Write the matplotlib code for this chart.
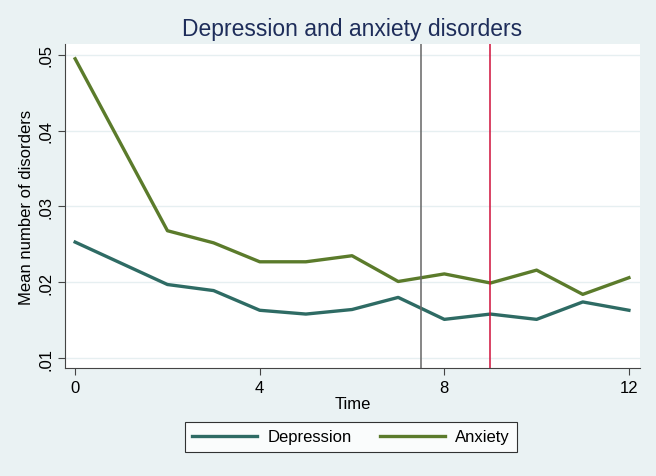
import matplotlib.pyplot as plt

plt.rcParams['font.family'] = ['Liberation Sans', 'DejaVu Sans']

time = [0, 2, 3, 4, 5, 6, 7, 8, 9, 10, 11, 12]
depression = [0.0253, 0.0197, 0.0189, 0.0163, 0.0158, 0.0164, 0.0180, 0.0151, 0.0158, 0.0151, 0.0174, 0.0163]
anxiety = [0.0495, 0.0268, 0.0252, 0.0227, 0.0227, 0.0235, 0.0201, 0.0211, 0.0199, 0.0216, 0.0184, 0.0206]
vlines = [7.5, 9]
vline_colors = ['#666666', '#d0103a']

bg = '#eaf2f3'
fig = plt.figure(figsize=(6.56, 4.77), dpi=100, facecolor=bg)
ax = fig.add_axes([65 / 656, 1 - 369 / 477, 575 / 656, 324 / 477])
ax.set_facecolor('white')

ax.plot(time, depression, color='#2e6b64', linewidth=2.4, label='Depression')
ax.plot(time, anxiety, color='#5b7b2b', linewidth=2.4, label='Anxiety')
for xv, c in zip(vlines, vline_colors):
    ax.axvline(xv, color=c, linewidth=1.1)

ax.set_xlim(-0.22, 12.24)
ax.set_ylim(0.00868, 0.05145)
ax.set_xticks([0, 4, 8, 12])
ax.set_yticks([0.01, 0.02, 0.03, 0.04, 0.05])
ax.set_yticklabels(['.01', '.02', '.03', '.04', '.05'], rotation=90, va='center')
ax.grid(axis='y', color='#e6eff1', linewidth=1)
ax.set_axisbelow(True)
for s in ['top', 'right']:
    ax.spines[s].set_visible(False)
for s in ['left', 'bottom']:
    ax.spines[s].set_color('#444444')
ax.tick_params(colors='#444444', labelcolor='black', labelsize=12, length=5)

ax.set_xlabel('Time', fontsize=12, labelpad=1)
ax.set_ylabel('Mean number of disorders', fontsize=12, labelpad=3)
fig.suptitle('Depression and anxiety disorders', fontsize=16.5, color='#1e2d5a',
             x=352 / 656, y=0.962)

leg = fig.legend(loc='center', bbox_to_anchor=(351 / 656, 1 - 438 / 477), ncol=2,
                 frameon=True, fancybox=False, fontsize=12, handlelength=3.9,
                 handletextpad=0.6, columnspacing=1.7, borderpad=0.45)
leg.get_frame().set_edgecolor('black')
leg.get_frame().set_linewidth(0.8)

fig.savefig('out.png', dpi=100, facecolor=bg)
